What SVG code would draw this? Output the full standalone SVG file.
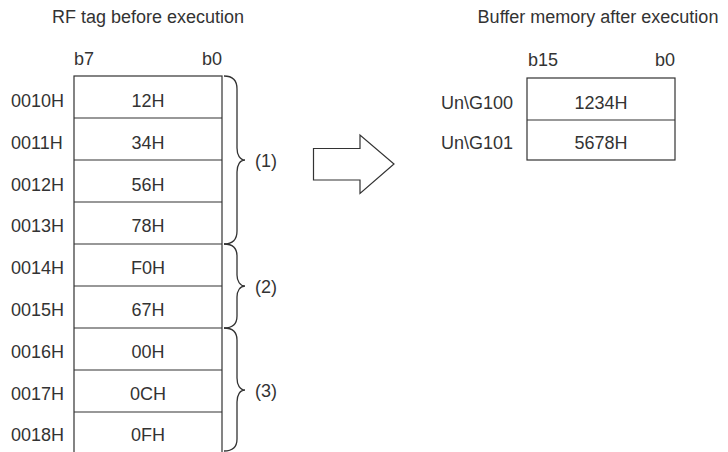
<svg xmlns="http://www.w3.org/2000/svg" width="728" height="452" viewBox="0 0 728 452">
<style>
text{font-family:"Liberation Sans",Arial,sans-serif;font-size:18px;fill:#333}
.c{text-anchor:middle}
.e{text-anchor:end}
.ln{fill:none;stroke:#333;stroke-width:1.2}
.br{fill:none;stroke:#333;stroke-width:1.3}
</style>
<rect width="728" height="452" fill="#fff"/>
<g id="title-left"><text class="c" x="148" y="23">RF tag before execution</text></g>
<g id="title-right"><text class="c" x="598" y="23">Buffer memory after execution</text></g>
<g id="rf-tag">
<text x="74" y="65">b7</text>
<text class="e" x="222" y="65">b0</text>
<rect class="ln" x="74" y="76" width="148" height="380"/>
<path class="ln" d="M74,118H222M74,160H222M74,202H222M74,244H222M74,286H222M74,328H222M74,370H222M74,412H222"/>
<text x="11" y="107">0010H</text><text class="c" x="148" y="107">12H</text>
<text x="11" y="149">0011H</text><text class="c" x="148" y="149">34H</text>
<text x="11" y="191">0012H</text><text class="c" x="148" y="191">56H</text>
<text x="11" y="232">0013H</text><text class="c" x="148" y="232">78H</text>
<text x="11" y="274">0014H</text><text class="c" x="148" y="274">F0H</text>
<text x="11" y="316">0015H</text><text class="c" x="148" y="316">67H</text>
<text x="11" y="358">0016H</text><text class="c" x="148" y="358">00H</text>
<text x="11" y="400">0017H</text><text class="c" x="148" y="400">0CH</text>
<text x="11" y="441">0018H</text><text class="c" x="148" y="441">0FH</text>
</g>
<g id="brace-1">
<path class="br" d="M224,76C233,76 237,80 237,89L237,148C237,155 240,160 245,160C240,160 237,165 237,172L237,231C237,240 233,244 224,244"/>
<text x="255" y="167">(1)</text>
</g>
<g id="brace-2">
<path class="br" d="M224,244C233,244 237,248 237,256L237,275C237,281 240,286 245,286C240,286 237,291 237,297L237,316C237,324 233,328 224,328"/>
<text x="255" y="293">(2)</text>
</g>
<g id="brace-3">
<path class="br" d="M224,328C233,328 237,332 237,340L237,378C237,385 240,390 245,390C240,390 237,395 237,402L237,439C237,447 233,451 224,451"/>
<text x="255" y="397">(3)</text>
</g>
<g id="connectors">
<path class="ln" d="M313.5,148.5H360V135L394,164L360,193.5V180H313.5Z"/>
</g>
<g id="buffer-memory">
<text x="528" y="66">b15</text>
<text class="e" x="675" y="66">b0</text>
<rect class="ln" x="527" y="78" width="148" height="82"/>
<path class="ln" d="M527,120H675"/>
<text class="e" x="513" y="109">Un\G100</text><text class="c" x="601" y="109">1234H</text>
<text class="e" x="513" y="149">Un\G101</text><text class="c" x="601" y="149">5678H</text>
</g>
</svg>
